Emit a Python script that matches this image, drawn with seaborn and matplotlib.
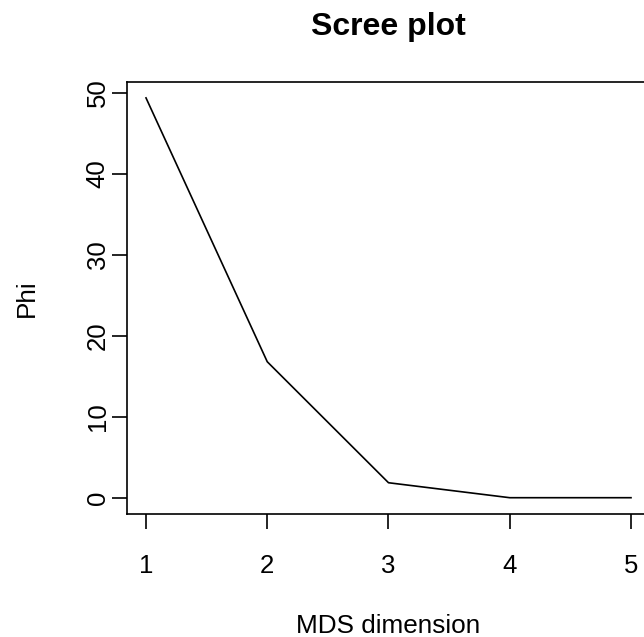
import matplotlib
matplotlib.use("Agg")
import matplotlib.pyplot as plt
import seaborn as sns
import pandas as pd

# Data
dimensions = [1, 2, 3, 4, 5]
phi_values = [49.4, 16.8, 1.85, 0.0, 0.0]
x_ticks = [1, 2, 3, 4, 5]
y_ticks = [0, 10, 20, 30, 40, 50]
title = "Scree plot"
x_label = "MDS dimension"
y_label = "Phi"

plt.rcParams['font.family'] = ['Liberation Sans', 'DejaVu Sans']

W, H = 644, 637
fig = plt.figure(figsize=(W / 100, H / 100), dpi=100)

left_px, right_px = 126.6, 650.4
top_px, bottom_px = 81.9, 513.7
ax = fig.add_axes([left_px / W, (H - bottom_px) / H,
                   (right_px - left_px) / W, (bottom_px - top_px) / H])

df = pd.DataFrame({"dim": dimensions, "phi": phi_values})
sns.lineplot(data=df, x="dim", y="phi", ax=ax, color="black", linewidth=1.2)

ax.set_xlim(0.84, 5.16)
ymax = max(phi_values)
ax.set_ylim(-0.04 * ymax, ymax * 1.04)
ax.set_xticks(x_ticks)
ax.set_yticks(y_ticks)
ax.set_xticklabels([str(v) for v in x_ticks])
ax.set_yticklabels([str(v) for v in y_ticks])

for s in ax.spines.values():
    s.set_linewidth(1.2)
    s.set_color("black")

ax.tick_params(axis="both", direction="out", length=10.8, width=1.2,
               color="black", labelsize=18.5)
ax.tick_params(axis="x", pad=18)
ax.tick_params(axis="y", pad=1.5, labelrotation=90)
for lab in ax.get_yticklabels():
    lab.set_va("center")
    lab.set_ha("right")

ax.set_xlabel(x_label, fontsize=18.8)
ax.xaxis.label.set_va("baseline")
ax.xaxis.set_label_coords(0.5, (bottom_px - 633) / (bottom_px - top_px))
ax.set_ylabel(y_label, fontsize=18.8)
ax.yaxis.label.set_va("baseline")
ax.yaxis.set_label_coords((34 - left_px) / (right_px - left_px), 0.5)

fig.text(388.5 / W, (H - 35) / H, title, ha="center", va="baseline",
         fontsize=23, fontweight="bold")

fig.savefig("out.png", dpi=100, facecolor="white")
